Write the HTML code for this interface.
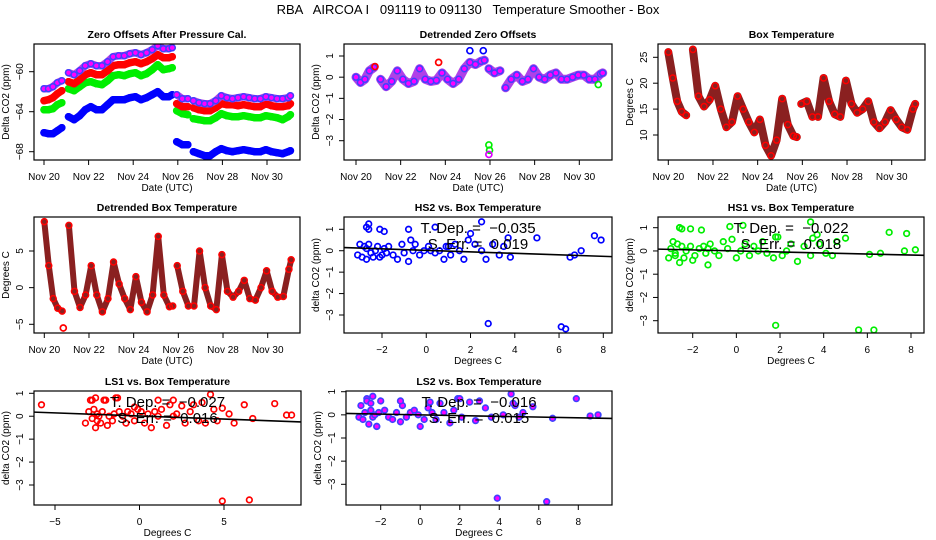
<!DOCTYPE html>
<html><head><meta charset="utf-8"><style>
html,body{margin:0;padding:0;background:#fff;}
svg{display:block;font-family:"Liberation Sans",Arial,sans-serif;}
text{white-space:pre;}
</style></head><body>
<svg id="chart" width="936" height="540" viewBox="0 0 936 540" xmlns="http://www.w3.org/2000/svg">
<rect x="0" y="0" width="936" height="540" fill="#fff"/>
<text x="468" y="14" text-anchor="middle" font-size="13">RBA   AIRCOA I   091119 to 091130   Temperature Smoother - Box</text>
</svg>
<script>
// ---- time series data ----
const times = [20.0,20.2,20.4,20.6,20.8, 21.1,21.35,21.6,21.85,22.1,22.35,22.6,22.85,23.1,23.35,23.6,23.85,24.1,24.35,24.6,24.85,25.1,25.35,25.6,25.75, 25.95,26.2,26.45, 26.7,26.95,27.2,27.45,27.7,27.95,28.2,28.45,28.7,28.95,29.2,29.45,29.7,29.95,30.2,30.45,30.7,30.95,31.05];
const segBreaks = [5,25,28];
const rawBlue = [-66.1,-66.2,-66.2,-65.9,-65.6, -64.5,-64.8,-64.4,-63.8,-63.5,-63.8,-63.8,-63.3,-62.8,-62.8,-62.8,-62.6,-62.5,-62.8,-62.6,-62.3,-62.0,-62.5,-62.5,-62.3, -67.0,-67.3,-67.3, -68.0,-68.2,-68.4,-68.4,-68.0,-67.7,-67.9,-68.0,-67.9,-67.8,-67.9,-68.0,-68.0,-67.8,-68.0,-68.1,-68.2,-68.0,-67.9];
const rawGreen = [-63.8,-63.8,-63.7,-63.3,-63.1, -61.7,-61.9,-61.5,-61.1,-61.0,-61.2,-61.3,-60.9,-60.4,-60.3,-60.4,-60.2,-60.1,-60.4,-60.2,-59.8,-59.3,-59.8,-59.7,-59.6, -63.9,-64.2,-64.3, -64.7,-64.8,-64.9,-64.9,-64.6,-64.2,-64.4,-64.5,-64.5,-64.4,-64.5,-64.6,-64.6,-64.4,-64.5,-64.6,-64.8,-64.5,-64.3];
const rawRed = [-62.9,-62.8,-62.6,-62.2,-61.9, -61.0,-61.2,-60.8,-60.3,-60.1,-60.3,-60.3,-59.9,-59.4,-59.3,-59.3,-59.1,-59.0,-59.2,-59.0,-58.7,-58.3,-58.6,-58.6,-58.5, -63.2,-63.5,-63.5, -63.6,-63.8,-63.9,-63.9,-63.6,-63.2,-63.3,-63.3,-63.4,-63.3,-63.4,-63.5,-63.5,-63.2,-63.4,-63.5,-63.5,-63.4,-63.2];
const rawPurple = [-61.7,-61.7,-61.5,-61.1,-60.9, -60.1,-60.3,-59.9,-59.4,-59.2,-59.4,-59.4,-59.0,-58.5,-58.4,-58.4,-58.2,-58.1,-58.3,-58.1,-57.8,-57.4,-57.7,-57.7,-57.6, -62.3,-62.7,-62.7, -62.9,-63.1,-63.2,-63.2,-62.9,-62.4,-62.6,-62.7,-62.6,-62.5,-62.6,-62.7,-62.7,-62.5,-62.6,-62.7,-62.7,-62.6,-62.4];
const detrended = [0.0,-0.25,-0.1,0.3,0.45, -0.1,-0.45,-0.2,0.3,-0.1,-0.3,-0.2,0.4,-0.1,-0.2,-0.15,0.2,-0.1,-0.3,-0.1,0.4,0.7,0.6,0.75,0.8, 0.4,0.2,0.3, -0.5,-0.1,0.1,-0.2,-0.1,0.4,0.0,-0.1,0.1,0.2,-0.1,-0.1,0.0,0.1,0.1,-0.1,-0.1,0.15,0.2];
const outlierTimes = [25.95,25.98,25.1,25.7,23.7,20.85,30.85,25.95];
const outlierVals = [-3.2,-3.45,1.25,1.25,0.7,0.5,-0.35,-3.65];
const outlierCols = ["#00ee00","#00ee00","#0000ff","#0000ff","#ff0000","#ff0000","#00ee00","#dd00ff"];
const boxTemp = [26,21,16.5,14.5,13.8, 26.5,17.5,15.5,16.8,19.5,15,11.5,12.5,17.5,15,12.5,10.5,13,8,6,9,17,12,9.8,9.6, 16,16.5,13.5, 13.5,21,16.5,14,13.5,20.5,16,14.3,15,16.5,12.5,11.3,12.5,14.8,13,11.5,11,15,16];
const detBoxTemp = [9,3,-1.5,-2.8,-3.2, 8.5,-0.5,-2.7,-1,3,-1,-3.3,-1.5,3.5,0.5,-1.5,-3,1.5,-2,-3.3,-1,7,-1,-2.6,-2.5, 3,-0.5,-2.5, -2.5,5,0,-2.5,-3,4.5,-0.5,-1.3,-0.5,1,-1.5,-1.7,0,2.3,-0.5,-1.3,-1.2,2.5,3.8];
const timeTicks = [20,22,24,26,28,30];
const timeTickLabels = ["Nov 20","Nov 22","Nov 24","Nov 26","Nov 28","Nov 30"];
// ---- scatter data ----
const hs2Temp = [-3.1,-3.0,-2.9,-2.8,-2.7,-2.7,-2.6,-2.6,-2.5,-2.4,-2.3,-2.2,-2.1,-2.0,-1.9,-1.8,-1.7,-1.5,-1.3,-1.1,-1.0,-0.8,-0.7,-0.6,-0.5,-0.3,-0.1,0.1,0.2,0.4,0.6,0.8,0.9,1.1,1.3,1.5,1.7,1.9,2.0,2.2,2.5,2.7,2.8,3.0,3.3,3.5,3.7,3.8,5.0,6.1,6.3,6.5,6.7,7.0,7.6,7.9,-2.7,-2.6,-2.1,-1.9,-0.8,0.4,1.0,2.5];
const hs2Co2 = [-0.2,0.3,-0.3,0.2,1.1,-0.4,1.25,0.3,-0.1,-0.3,0.0,0.2,-0.3,-0.2,0.1,-0.1,0.2,-0.2,-0.4,0.3,-0.1,-0.5,0.5,0.0,0.3,-0.2,0.0,0.2,0.0,-0.1,0.0,-0.4,0.2,-0.2,0.3,0.0,-0.4,0.5,0.8,0.3,0.0,-0.4,-3.4,0.3,-0.2,0.2,0.6,-0.3,0.6,-3.55,-3.65,-0.3,-0.2,0.0,0.7,0.5,0.1,1.0,1.0,0.9,1.0,1.1,0.2,1.35];
const hs1Temp = [-3.1,-3.0,-2.9,-2.8,-2.7,-2.6,-2.6,-2.5,-2.4,-2.3,-2.1,-2.0,-1.9,-1.7,-1.5,-1.4,-1.3,-1.2,-1.0,-0.8,-0.6,-0.4,-0.2,0.0,0.2,0.4,0.6,0.8,1.0,1.2,1.4,1.7,1.8,1.9,2.1,2.3,2.5,2.8,3.1,3.4,3.5,3.7,3.8,4.1,4.4,4.6,5.0,5.6,6.1,6.3,6.6,7.0,7.7,7.8,8.2,-2.6,-2.5,-2.1,-1.6,-0.3,0.3,3.4,-2.8,-1.3,1.8];
const hs1Co2 = [-0.3,0.1,0.4,-0.2,0.3,-0.5,1.0,0.2,-0.3,0.0,0.2,-0.4,-0.2,0.1,0.2,-0.1,-0.6,0.3,0.0,-0.2,0.4,0.1,0.5,-0.3,0.0,0.3,-0.2,0.2,0.0,0.4,-0.1,-0.3,0.6,0.6,-0.2,0.0,0.3,-0.45,0.2,-0.2,0.55,0.7,0.3,-0.1,-0.2,0.4,0.55,-3.4,-0.15,-3.4,-0.1,0.8,0.0,0.75,0.05,1.0,0.95,0.95,0.9,1.05,1.1,1.25,-0.1,0.1,-3.2];
const ls1Temp = [-5.8,-3.2,-3.0,-2.9,-2.8,-2.7,-2.6,-2.5,-2.5,-2.4,-2.3,-2.2,-2.0,-1.9,-1.8,-1.6,-1.5,-1.3,-1.2,-1.0,-0.8,-0.7,-0.5,-0.3,-0.1,0.1,0.3,0.5,0.7,0.9,1.1,1.3,1.6,1.8,2.0,2.2,2.5,2.7,3.0,3.2,3.5,3.7,3.9,4.2,4.4,4.6,4.9,5.3,5.6,6.2,6.5,6.7,8.0,8.7,9.0,4.9,-2.8,-2.6,-2.1,-1.4,-0.3,1.1,2.0];
const ls1Co2 = [0.5,-0.3,0.2,0.7,-0.1,0.3,0.8,-0.2,0.1,0.0,-0.3,0.2,0.7,-0.4,0.0,-0.2,0.1,0.8,0.2,0.0,-0.3,0.2,0.1,-0.2,0.3,0.2,-0.3,0.1,-0.5,0.2,0.0,0.3,-0.4,0.5,0.0,0.1,0.45,-0.3,0.2,0.5,-0.2,0.6,-0.3,0.95,0.3,-0.2,0.35,0.1,-0.3,0.5,-3.65,-0.1,0.55,0.05,0.05,-3.7,0.7,-0.5,0.7,0.8,0.4,0.7,0.7];
const ls2Temp = [-3.1,-3.0,-2.9,-2.8,-2.7,-2.6,-2.5,-2.4,-2.3,-2.2,-2.1,-2.0,-1.8,-1.6,-1.4,-1.2,-1.0,-0.9,-0.7,-0.5,-0.3,-0.1,0.0,0.2,0.4,0.6,0.8,1.0,1.2,1.5,1.7,1.9,2.1,2.5,2.8,3.0,3.3,3.6,3.9,4.2,4.6,4.8,5.0,5.2,5.7,6.4,6.7,7.9,8.6,9.0,-2.7,-2.4,-2.2,-1.0,0.5,2.0,4.7,-2.5];
const ls2Co2 = [-0.1,0.4,-0.2,0.1,0.7,-0.4,0.2,-0.1,0.0,-0.5,0.1,0.6,0.2,-0.1,-0.2,0.1,-0.3,0.4,-0.1,0.1,0.2,0.0,-0.5,-0.2,0.3,0.1,-0.2,0.5,0.1,-0.35,0.2,0.7,-0.1,0.55,-0.25,0.6,0.3,-0.1,-3.6,0.0,0.9,0.4,-0.1,0.1,0.35,-3.75,-0.15,0.7,-0.05,0.0,0.6,0.8,-0.5,0.6,0.55,0.7,0.5,0.5];
const fitSlopes = [-0.035,-0.022,-0.027,-0.016];
const fitIntercepts = [0.018,0.0,0.01,0.0];
const fitSErr = ["0.019","0.018","0.016","0.015"];

const svg = document.getElementById('chart');
const NS = 'http://www.w3.org/2000/svg';
function mk(tag, attrs, parent){
  const e = document.createElementNS(NS, tag);
  for (const k in attrs) e.setAttribute(k, attrs[k]);
  (parent||svg).appendChild(e);
  return e;
}
function lin(v0,p0,v1,p1){ return v => p0 + (v - v0) * (p1 - p0) / (v1 - v0); }

function panel(cfg){
  const g = mk('g', {});
  
  
  const sx = lin(...cfg.xs), sy = lin(...cfg.ys);
  const clip = 'clip-' + cfg.name;
  const cp = mk('clipPath', {id: clip}, g);
  mk('rect', {x: cfg.x0, y: cfg.y0, width: cfg.x1 - cfg.x0, height: cfg.y1 - cfg.y0}, cp);
  const plot = mk('g', {'clip-path': 'url(#' + clip + ')'}, g);
  
  
  cfg.draw(plot, sx, sy);
  const box = mk('rect', {x: cfg.x0, y: cfg.y0, width: cfg.x1 - cfg.x0, height: cfg.y1 - cfg.y0, fill: 'none', stroke: '#000', 'stroke-width': 1.2}, g);
  
  
  const xt = cfg.xticks, xl = cfg.xlabels || cfg.xticks.map(String);
  const xa = mk('line', {x1: sx(xt[0]), x2: sx(xt[xt.length-1]), y1: cfg.y1, y2: cfg.y1, stroke: '#000'}, g);
  
  
  xt.forEach((v, i) => {
    mk('line', {x1: sx(v), x2: sx(v), y1: cfg.y1, y2: cfg.y1 + 5, stroke: '#000'}, g);
    const t = mk('text', {x: sx(v), y: cfg.y1 + 20, 'text-anchor': 'middle', 'font-size': 10}, g);
    
    
    t.textContent = xl[i].replace('-', '\u2212');
  });
  const yt = cfg.yticks;
  const ya = mk('line', {x1: cfg.x0, x2: cfg.x0, y1: sy(yt[0]), y2: sy(yt[yt.length-1]), stroke: '#000'}, g);
  
  
  yt.forEach(v => {
    mk('line', {x1: cfg.x0 - 5, x2: cfg.x0, y1: sy(v), y2: sy(v), stroke: '#000'}, g);
    const x = cfg.x0 - 11, y = sy(v);
    const t = mk('text', {x: x, y: y, 'text-anchor': 'middle', 'font-size': 10, transform: 'rotate(-90 ' + x + ' ' + y + ')'}, g);
    
    
    t.textContent = String(v).replace('-', '\u2212');
  });
  const tt = mk('text', {x: (cfg.x0 + cfg.x1) / 2, y: cfg.y0 - 6, 'text-anchor': 'middle', 'font-size': 10.5, 'font-weight': 'bold'}, g);
  
  
  tt.textContent = cfg.title;
  const xl2 = mk('text', {x: (cfg.x0 + cfg.x1) / 2, y: cfg.y1 + 31, 'text-anchor': 'middle', 'font-size': 10}, g);
  
  
  xl2.textContent = cfg.xlab;
  const lx = cfg.x0 - 25, ly = (cfg.y0 + cfg.y1) / 2;
  const yl = mk('text', {x: lx, y: ly, 'text-anchor': 'middle', 'font-size': 10, transform: 'rotate(-90 ' + lx + ' ' + ly + ')'}, g);
  
  
  yl.textContent = cfg.ylab;
  return g;
}

function timeSeries(plot, sx, sy, vals, lineCol, ptStroke, ptFill, name, w){
  const g = mk('g', {}, plot);
  
  
  const starts = [0].concat(segBreaks), ends = segBreaks.concat([times.length]);
  starts.forEach((s, k) => {
    let pts = [];
    for (let i = s; i < ends[k]; i++) pts.push(sx(times[i]).toFixed(1) + ',' + sy(vals[i]).toFixed(1));
    mk('polyline', {points: pts.join(' '), fill: 'none', stroke: lineCol, 'stroke-width': w || 7.5, 'stroke-linejoin': 'round', 'stroke-linecap': 'round'}, g);
  });
  for (let i = 0; i < times.length; i++) {
    const c = mk('circle', {cx: sx(times[i]), cy: sy(vals[i]), r: 3, fill: ptFill, stroke: ptStroke, 'stroke-width': 1.5}, g);
    
    
  }
}

function scatter(plot, sx, sy, xs, ys, stroke, fill, k, name){
  const g = mk('g', {}, plot);
  
  
  const n = Math.min(xs.length, ys.length);
  for (let i = 0; i < n; i++) {
    const c = mk('circle', {cx: sx(xs[i]), cy: sy(ys[i]), r: 2.8, fill: fill, stroke: stroke, 'stroke-width': 1.7}, g);
    
    
  }
  const xa = -20, xb = 20;
  const fl = mk('line', {x1: sx(xa), y1: sy(fitIntercepts[k] + fitSlopes[k] * xa), x2: sx(xb), y2: sy(fitIntercepts[k] + fitSlopes[k] * xb), stroke: '#000', 'stroke-width': 1.6}, g);
  
  
}

function statText(cfg, k){
  const cx = (cfg.x0 + cfg.x1) / 2;
  const t1 = mk('text', {x: cx, y: cfg.y0 + 16, 'text-anchor': 'middle', 'font-size': 15});
  
  
  t1.textContent = 'T. Dep. =  ' + String(fitSlopes[k]).replace('-', '\u2212');
  const t2 = mk('text', {x: cx, y: cfg.y0 + 32, 'text-anchor': 'middle', 'font-size': 15});
  
  
  t2.textContent = 'S. Err. =  ' + fitSErr[k];
}

const TXL = 'Date (UTC)';
panel({name:'zero-offsets-panel', x0:34, x1:300, y0:44, y1:160, xs:[20,44,30,267], ys:[-60,71.7,-68,151.7],
  xticks: timeTicks, xlabels: timeTickLabels, yticks:[-68,-64,-60], title:'Zero Offsets After Pressure Cal.', xlab:TXL, ylab:'Delta CO2 (ppm)',
  draw:(p,sx,sy)=>{
    timeSeries(p,sx,sy,rawBlue,'#0000ff','#0000ff','none','series-hs2');
    timeSeries(p,sx,sy,rawGreen,'#00ee00','#00ee00','none','series-hs1');
    timeSeries(p,sx,sy,rawRed,'#ff0000','#ff0000','none','series-ls1');
    timeSeries(p,sx,sy,rawPurple,'#b040e8','#4040ff','#ff00ff','series-ls2');
  }});
panel({name:'detrended-zero-offsets-panel', x0:344, x1:612, y0:44, y1:160, xs:[20,356,30,579.3], ys:[1,56,-3,140.7],
  xticks: timeTicks, xlabels: timeTickLabels, yticks:[-3,-2,-1,0,1], title:'Detrended Zero Offsets', xlab:TXL, ylab:'Delta CO2 (ppm)',
  draw:(p,sx,sy)=>{
    timeSeries(p,sx,sy,detrended,'#b040e8','#4040ff','#ff00ff','series-detrended', 9);
    for (let i = 0; i < outlierTimes.length; i++) {
      const c = mk('circle', {cx: sx(outlierTimes[i]), cy: sy(outlierVals[i]), r: 3, fill: 'none', stroke: outlierCols[i], 'stroke-width': 1.7}, p);
      
      
    }
  }});
panel({name:'box-temperature-panel', x0:658, x1:925, y0:44, y1:160, xs:[20,668.3,30,891.7], ys:[25,57.3,10,135],
  xticks: timeTicks, xlabels: timeTickLabels, yticks:[10,15,20,25], title:'Box Temperature', xlab:TXL, ylab:'Degrees C',
  draw:(p,sx,sy)=>{ timeSeries(p,sx,sy,boxTemp,'#8a2020','#ff0000','none','series-box-temp', 8); }});
panel({name:'detrended-box-temperature-panel', x0:34, x1:300, y0:217, y1:333, xs:[20,44.3,30,267.7], ys:[5,251,-5,324.3],
  xticks: timeTicks, xlabels: timeTickLabels, yticks:[-5,0,5], title:'Detrended Box Temperature', xlab:TXL, ylab:'Degrees C',
  draw:(p,sx,sy)=>{
    timeSeries(p,sx,sy,detBoxTemp,'#8a2020','#ff0000','none','series-detrended-box-temp', 6);
    const c = mk('circle', {cx: sx(20.85), cy: sy(-5.5), r: 3, fill:'none', stroke:'#ff0000', 'stroke-width':1.7}, p);
    
    
  }});
const cHS2 = {name:'hs2-vs-box-temp-panel', x0:344, x1:612, y0:217, y1:333, xs:[-2,382,8,603.3], ys:[1,229.3,-3,315],
  xticks:[-2,0,2,4,6,8], yticks:[-3,-2,-1,0,1], title:'HS2 vs. Box Temperature', xlab:'Degrees C', ylab:'delta CO2 (ppm)',
  draw:(p,sx,sy)=>scatter(p,sx,sy,hs2Temp,hs2Co2,'#0000ff','none',0,'series-hs2-points')};
panel(cHS2); statText(cHS2,0);
const cHS1 = {name:'hs1-vs-box-temp-panel', x0:658, x1:924, y0:217, y1:333, xs:[-2,692.7,8,911], ys:[1,227.7,-3,320.7],
  xticks:[-2,0,2,4,6,8], yticks:[-3,-2,-1,0,1], title:'HS1 vs. Box Temperature', xlab:'Degrees C', ylab:'delta CO2 (ppm)',
  draw:(p,sx,sy)=>scatter(p,sx,sy,hs1Temp,hs1Co2,'#00ee00','none',1,'series-hs1-points')};
panel(cHS1); statText(cHS1,1);
const cLS1 = {name:'ls1-vs-box-temp-panel', x0:34, x1:301, y0:391, y1:505, xs:[-5,55,5,224], ys:[1,393.3,-3,485],
  xticks:[-5,0,5], yticks:[-3,-2,-1,0,1], title:'LS1 vs. Box Temperature', xlab:'Degrees C', ylab:'delta CO2 (ppm)',
  draw:(p,sx,sy)=>scatter(p,sx,sy,ls1Temp,ls1Co2,'#ff0000','none',2,'series-ls1-points')};
panel(cLS1); statText(cLS1,2);
const cLS2 = {name:'ls2-vs-box-temp-panel', x0:346, x1:612, y0:391, y1:505, xs:[-2,380.7,8,578.3], ys:[1,391.7,-3,484.3],
  xticks:[-2,0,2,4,6,8], yticks:[-3,-2,-1,0,1], title:'LS2 vs. Box Temperature', xlab:'Degrees C', ylab:'delta CO2 (ppm)',
  draw:(p,sx,sy)=>scatter(p,sx,sy,ls2Temp,ls2Co2,'#4040ff','#ff00ff',3,'series-ls2-points')};
panel(cLS2); statText(cLS2,3);
</script>
</body></html>
